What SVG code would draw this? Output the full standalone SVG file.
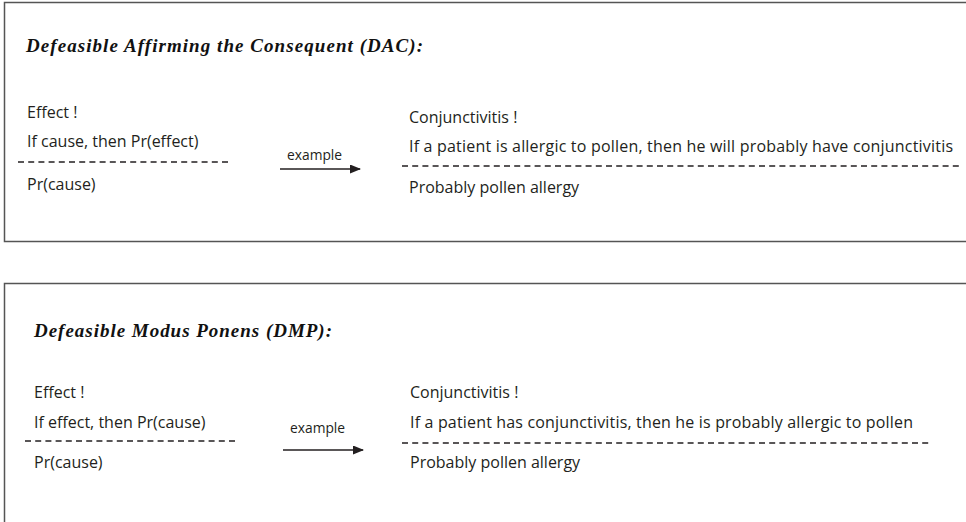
<svg xmlns="http://www.w3.org/2000/svg" width="966" height="522" viewBox="0 0 966 522">
<defs>
<style>
.frame{fill:#fff;stroke:#555;stroke-width:1.5}
.title{font-family:"Liberation Serif",serif;font-weight:bold;font-style:italic;font-size:19px;fill:#111}
.t{font-family:"Open Sans","Liberation Sans",sans-serif;font-size:16px;fill:#231f20}
.lbl{font-family:"Open Sans","Liberation Sans",sans-serif;font-size:13.8px;fill:#231f20}
.dash{stroke:#231f20;stroke-width:1.4;stroke-dasharray:6 4.2;fill:none}
.arrow{stroke:#231f20;stroke-width:1.6;fill:none;marker-end:url(#ah)}
</style>
<marker id="ah" markerWidth="11" markerHeight="9" refX="10" refY="4.5" orient="auto" markerUnits="userSpaceOnUse">
<path d="M0,0 L11,4.5 L0,9 Z" fill="#231f20"/>
</marker>
</defs>
<rect width="966" height="522" fill="#fff"/>
<g id="dac">
<rect class="frame" x="4.5" y="2.5" width="980" height="239"/>
<text class="title" x="26" y="52" textLength="397">Defeasible Affirming the Consequent (DAC):</text>
<g id="dac-schema">
<text class="t" x="27" y="118">Effect !</text>
<text class="t" x="27" y="147">If cause, then Pr(effect)</text>
<line class="dash" x1="18" y1="162" x2="229" y2="162"/>
<text class="t" x="27" y="190">Pr(cause)</text>
</g>
<g id="dac-example">
<text class="t" x="409" y="123">Conjunctivitis  !</text>
<text class="t" x="409" y="152" textLength="544">If a patient is allergic to pollen, then he will probably have conjunctivitis</text>
<line class="dash" x1="402" y1="166" x2="962" y2="166"/>
<text class="t" x="409" y="193">Probably pollen allergy</text>
</g>
</g>
<g id="dmp">
<rect class="frame" x="4.5" y="283.5" width="980" height="260"/>
<text class="title" x="34" y="337" textLength="298">Defeasible Modus Ponens (DMP):</text>
<g id="dmp-schema">
<text class="t" x="34" y="398">Effect !</text>
<text class="t" x="34" y="428">If effect, then Pr(cause)</text>
<line class="dash" x1="25" y1="441" x2="236" y2="441"/>
<text class="t" x="34" y="468">Pr(cause)</text>
</g>
<g id="dmp-example">
<text class="t" x="410" y="398">Conjunctivitis !</text>
<text class="t" x="410" y="428" textLength="503">If a patient has conjunctivitis, then he is probably allergic to pollen</text>
<line class="dash" x1="402" y1="443" x2="932" y2="443"/>
<text class="t" x="410" y="468">Probably pollen allergy</text>
</g>
</g>
<g id="connectors">
<text class="lbl" x="287" y="160">example</text>
<line class="arrow" x1="280" y1="169" x2="360" y2="169"/>
<text class="lbl" x="290" y="433">example</text>
<line class="arrow" x1="283" y1="450" x2="363" y2="450"/>
</g>
</svg>
